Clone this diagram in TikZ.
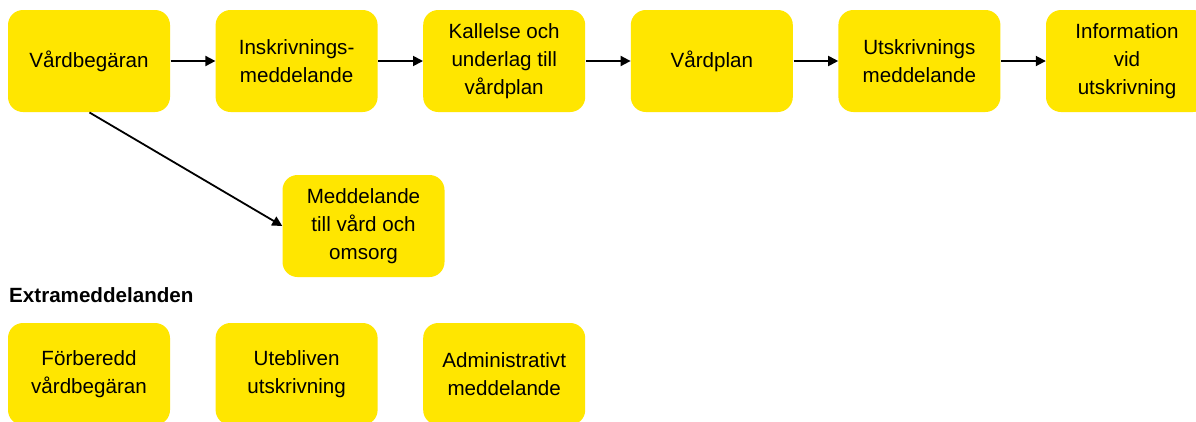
\documentclass[tikz,border=0pt]{standalone}
\usepackage{fontspec}
\setmainfont{Liberation Sans}
\usetikzlibrary{arrows.meta}
\definecolor{boxyellow}{RGB}{255,230,0}
\begin{document}
\begin{tikzpicture}[x=1pt,y=-1pt,
  box/.style={fill=boxyellow, rounded corners=15pt, minimum width=162pt, minimum height=102pt,
    inner sep=0pt, align=center, font=\fontsize{20.6}{28}\selectfont},
  flow/.style={line width=1.8pt, -{Triangle[length=10pt,width=10pt]}, shorten <=0.5pt}
]
\useasboundingbox (0,0) rectangle (1196,421);
\clip (0,0) rectangle (1196,421);
\fill[white] (0,0) rectangle (1196,421);
\node[box] (vb) at (89,61) {Vårdbegäran};
\node[box] (im) at (296.6,61) {Inskrivnings-\\meddelande};
\node[box] (ku) at (504.2,61) {Kallelse och\\underlag till\\vårdplan};
\node[box] (vp) at (711.8,61) {Vårdplan};
\node[box] (um) at (919.4,61) {Utskrivnings\\meddelande};
\node[box] (iv) at (1127,61) {Information\\vid\\utskrivning};
\node[box] (mv) at (363.5,226) {Meddelande\\till vård och\\omsorg};
\node[anchor=base west, inner sep=0pt, font=\fontsize{20.6}{24}\selectfont\bfseries] (ex) at (9,302) {Extrameddelanden};
\node[box] (fv) at (89,374) {Förberedd\\vårdbegäran};
\node[box] (uu) at (296.6,374) {Utebliven\\utskrivning};
\node[box] (am) at (504.2,374) {Administrativt\\meddelande};
\draw[flow] (vb) -- (im);
\draw[flow] (im) -- (ku);
\draw[flow] (ku) -- (vp);
\draw[flow] (vp) -- (um);
\draw[flow] (um) -- (iv);
\draw[flow] (vb.south) -- (mv.west);
\end{tikzpicture}
\end{document}
